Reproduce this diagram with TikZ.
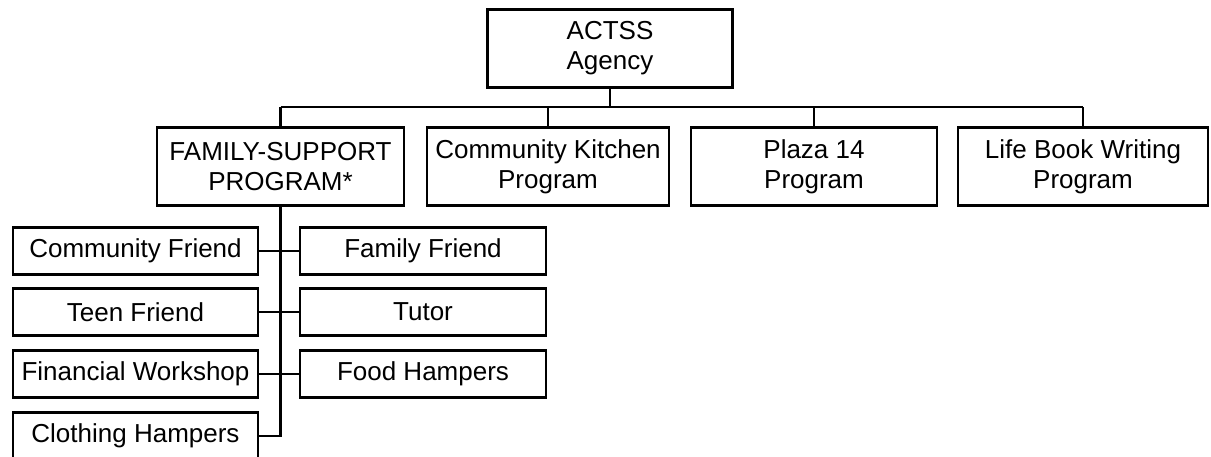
\documentclass[tikz,border=0pt]{standalone}
\usepackage{fontspec}
\setmainfont{Liberation Sans}
\tikzset{
  unitbox/.style={draw, line width=2.2pt, inner sep=0pt, align=center,
    font=\fontsize{26}{30}\selectfont},
  topbox/.style={unitbox, minimum width=245, minimum height=78},
  subbox/.style={unitbox, minimum width=245, minimum height=47},
  link/.style={line width=2.2pt}
}
\begin{document}
\begin{tikzpicture}[x=1pt,y=1pt,yscale=-1]
    \useasboundingbox (0,0) rectangle (1211,457);
    %Agency
    \node[topbox] (actss) at (610,48.5) {ACTSS\\Agency};
    %Programs
    \node[topbox, minimum width=247] (family) at (280.5,166.5) {FAMILY-SUPPORT\\PROGRAM*};
    \node[topbox, minimum width=242] (kitchen) at (548,166.5) {Community Kitchen\\Program};
    \node[topbox, minimum width=246] (plaza) at (814,166.5) {Plaza 14\\Program};
    \node[topbox, minimum width=250] (lifebook) at (1083,166.5) {Life Book Writing\\Program};
    \coordinate (bus) at (0,107);
    %Family-support services, left column
    \node[subbox] (comfriend) at (135.5,251) {Community Friend};
    \node[subbox] (teen) at (135.5,312) {Teen Friend};
    \node[subbox] (finance) at (135.5,374) {Financial Workshop};
    \node[subbox] (clothing) at (135.5,436) {Clothing Hampers};
    %Family-support services, right column
    \node[subbox, minimum width=246] (famfriend) at (423,251) {Family Friend};
    \node[subbox, minimum width=246] (tutor) at (423,312) {Tutor};
    \node[subbox, minimum width=246] (food) at (423,374) {Food Hampers};

    %Lines
    \draw[link] (actss.south) -- (actss.south |- bus);
    \draw[link] (family.north |- bus) -- (lifebook.north |- bus);
    \foreach \prog in {family,kitchen,plaza,lifebook}
      \draw[link] (\prog.north) -- (\prog.north |- bus);
    \draw[link] (family.south) |- (clothing.east);
    \draw[link] (comfriend.east) -- (famfriend.west);
    \draw[link] (teen.east) -- (tutor.west);
    \draw[link] (finance.east) -- (food.west);
\end{tikzpicture}
\end{document}
